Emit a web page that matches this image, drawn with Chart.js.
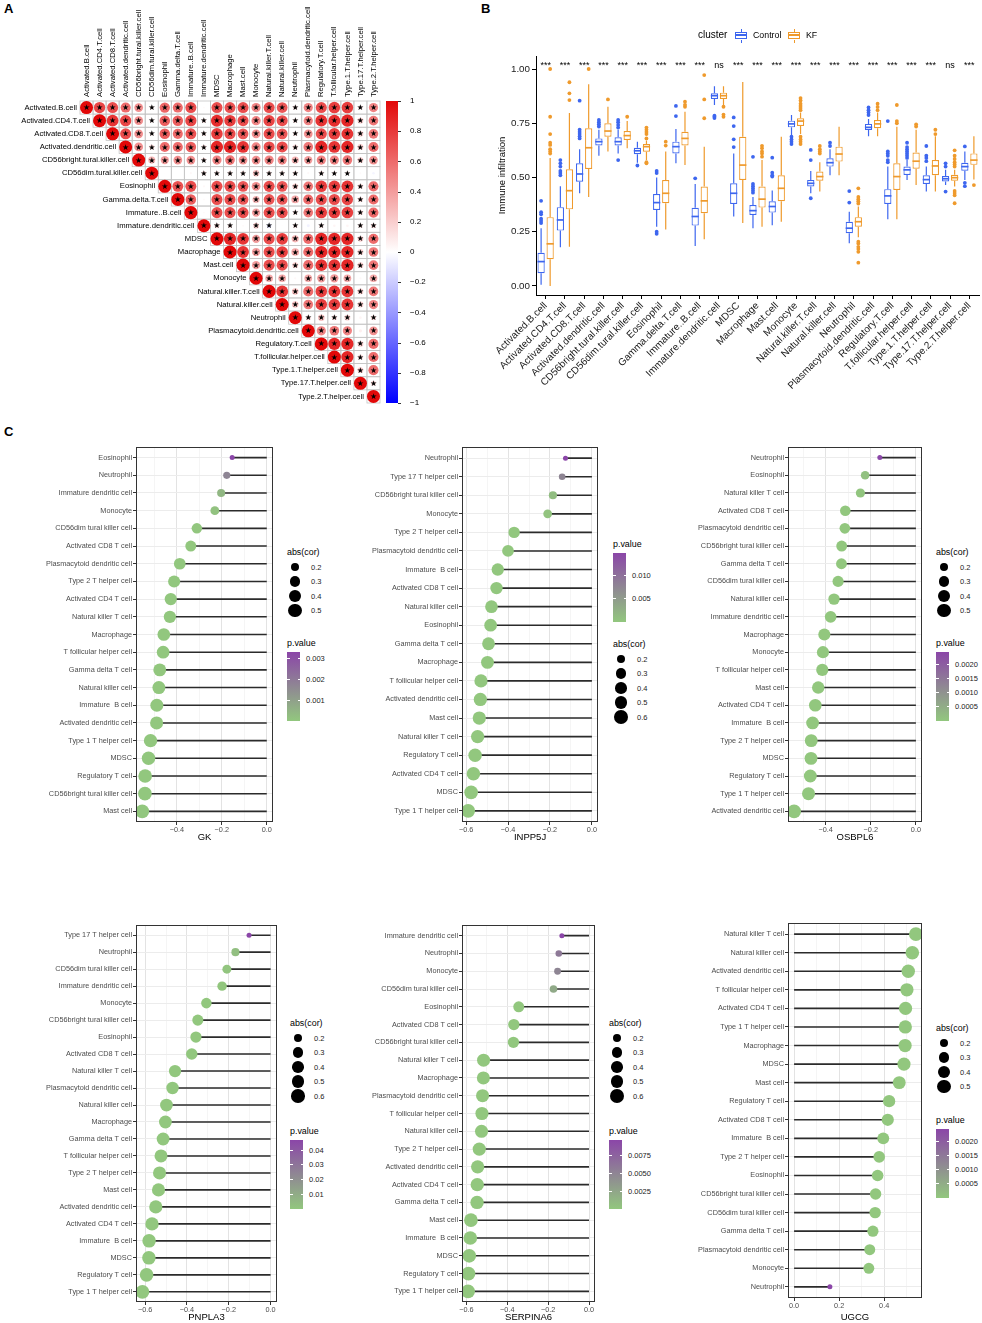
<!DOCTYPE html>
<html lang="en">
<head>
<meta charset="UTF-8">
<title>Immune infiltration</title>
<script src="https://cdn.jsdelivr.net/npm/chart.js@4.4.1/dist/chart.umd.min.js"></script>
<style>
  body { margin: 0; background: #fff; }
  #page { position: relative; width: 982px; height: 1323px; overflow: hidden; background: #fff;
          font-family: "Liberation Sans", Arial, sans-serif; color: #000; }
  #page canvas { position: absolute; }
  .tag { position: absolute; font-size: 13px; font-weight: bold; line-height: 13px; }
  .txt { position: absolute; white-space: nowrap; }
  .blk { position: absolute; }
</style>
</head>
<body>
<div id="page">
  <div class="tag" style="left:4px;top:2px">A</div>
  <div class="tag" style="left:481px;top:2px">B</div>
  <div class="tag" style="left:4px;top:425px">C</div>
  <canvas id="corr" width="440" height="420" style="left:0;top:0"></canvas>
  <canvas id="box" width="502" height="400" style="left:480px;top:0"></canvas>
</div>
<script>
// ---------- panel A: correlation between cell types (upper triangle, row i starts at column i)
const corrCells = ['Activated.B.cell', 'Activated.CD4.T.cell', 'Activated.CD8.T.cell', 'Activated.dendritic.cell',
  'CD56bright.tural.killer.cell', 'CD56dim.tural.killer.cell', 'Eosinophil', 'Gamma.delta.T.cell', 'Immature..B.cell',
  'Immature.dendritic.cell', 'MDSC', 'Macrophage', 'Mast.cell', 'Monocyte', 'Natural.killer.T.cell',
  'Natural.killer.cell', 'Neutrophil', 'Plasmacytoid.dendritic.cell', 'Regulatory.T.cell', 'T.follicular.helper.cell',
  'Type.1.T.helper.cell', 'Type.17.T.helper.cell', 'Type.2.T.helper.cell'];
const corrUpper = [
  [1, .75, .72, .6, .45, .1, .62, .6, .72, .02, .72, .7, .72, .5, .72, .68, .12, .5, .72, .78, .78, .12, .5],
  [1, .82, .75, .45, .1, .65, .65, .75, .12, .85, .78, .72, .5, .75, .72, .12, .5, .82, .85, .88, .2, .55],
  [1, .72, .45, .1, .65, .6, .7, .12, .78, .72, .68, .45, .72, .68, .12, .45, .72, .78, .82, .2, .55],
  [1, .45, .15, .6, .6, .65, .12, .88, .88, .82, .5, .72, .72, .15, .55, .88, .82, .88, .2, .6],
  [1, .3, .4, .45, .45, .12, .5, .55, .45, .45, .5, .5, .3, .4, .5, .5, .55, .2, .45],
  [1, .01, 0, .03, .12, .12, .12, .12, .25, .12, .12, .12, .03, .12, .1, .1, .02, -.04],
  [1, .7, .72, .03, .72, .72, .68, .45, .72, .68, .2, .55, .78, .78, .82, .15, .6],
  [1, .65, .02, .72, .72, .68, .3, .68, .68, .35, .6, .72, .72, .75, .15, .6],
  [1, .02, .72, .72, .72, .4, .72, .72, .12, .55, .78, .78, .78, .15, .6],
  [1, .15, .12, .02, .2, -.12, .01, .12, -.05, .12, .04, .04, .12, .15],
  [1, .88, .82, .4, .72, .78, .3, .6, .88, .88, .88, .2, .6],
  [1, .82, .4, .72, .78, .35, .6, .88, .88, .88, .2, .55],
  [1, .4, .72, .72, .2, .6, .82, .82, .88, .2, .55],
  [1, .35, .35, .03, .35, .4, .4, .35, .03, .35],
  [1, .82, .25, .6, .78, .82, .82, .2, .55],
  [1, .25, .55, .78, .78, .82, .2, .5],
  [1, .15, .25, .15, .2, .04, .15],
  [1, .5, .55, .5, .06, .45],
  [1, .88, .88, .2, .6],
  [1, .88, .15, .6],
  [1, .2, .6],
  [1, .15],
  [1]
];
const corrTicks = [-1, -0.8, -0.6, -0.4, -0.2, 0, 0.2, 0.4, 0.6, 0.8, 1];

// ---------- panel B: immune infiltration by cluster
const boxCells = corrCells;
const sigMarks = ['***', '***', '***', '***', '***', '***', '***', '***', '***', 'ns', '***', '***',
  '***', '***', '***', '***', '***', '***', '***', '***', '***', 'ns', '***'];
const yBreaks = [0, 0.25, 0.5, 0.75, 1];

const ctrlLow = [0.005, 0.178, 0.427, 0.60, 0.61, 0.568, 0.273, 0.565, 0.184, 0.834, 0.32, 0.266, 0.28, 0.69, 0.427, 0.51, 0.197, 0.69, 0.307, 0.488, 0.435, 0.465, 0.488];
const ctrlQ1 = [0.058, 0.255, 0.48, 0.647, 0.647, 0.607, 0.35, 0.611, 0.278, 0.862, 0.378, 0.327, 0.338, 0.731, 0.458, 0.55, 0.243, 0.719, 0.378, 0.511, 0.47, 0.481, 0.531];
const ctrlMed = [0.112, 0.304, 0.516, 0.665, 0.665, 0.623, 0.384, 0.642, 0.32, 0.877, 0.427, 0.347, 0.366, 0.747, 0.473, 0.568, 0.266, 0.731, 0.415, 0.535, 0.49, 0.494, 0.55];
const ctrlQ3 = [0.153, 0.363, 0.565, 0.68, 0.685, 0.637, 0.424, 0.665, 0.36, 0.888, 0.473, 0.373, 0.39, 0.762, 0.488, 0.588, 0.296, 0.747, 0.446, 0.55, 0.51, 0.507, 0.568];
const ctrlHigh = [0.266, 0.46, 0.63, 0.72, 0.72, 0.665, 0.50, 0.723, 0.47, 0.92, 0.61, 0.41, 0.44, 0.788, 0.53, 0.63, 0.342, 0.77, 0.55, 0.58, 0.55, 0.535, 0.62];
const ctrlOut = [[0.29, 0.30, 0.31, 0.33, 0.34, 0.392], [0.51, 0.52, 0.53, 0.55, 0.565, 0.58], [0.68, 0.69, 0.70, 0.71, 0.72, 0.854],
  [0.735, 0.745, 0.755, 0.765], [0.58, 0.73, 0.742, 0.755, 0.765], [0.555], [0.24, 0.25, 0.52, 0.53], [0.783, 0.83], [0.496],
  [0.774, 0.78, 0.785], [0.64, 0.676, 0.737, 0.777], [0.43, 0.44, 0.45, 0.46, 0.47, 0.595], [0.504, 0.51, 0.522, 0.591],
  [0.654, 0.665, 0.675, 0.688], [0.404, 0.58, 0.627], [0.645, 0.66], [0.384, 0.437], [0.788, 0.8, 0.81, 0.823],
  [0.57, 0.58, 0.6, 0.61, 0.62, 0.76], [0.59, 0.6, 0.61, 0.62, 0.63, 0.64, 0.66], [0.575, 0.59, 0.6, 0.645],
  [0.435, 0.55, 0.565], [0.46, 0.475, 0.643]];

const kfLow = [0.0, 0.18, 0.41, 0.62, 0.635, 0.58, 0.26, 0.557, 0.215, 0.83, 0.29, 0.273, 0.296, 0.70, 0.435, 0.51, 0.224, 0.69, 0.307, 0.465, 0.435, 0.458, 0.49];
const kfQ1 = [0.123, 0.353, 0.539, 0.688, 0.673, 0.619, 0.381, 0.647, 0.335, 0.862, 0.488, 0.361, 0.39, 0.737, 0.485, 0.573, 0.273, 0.727, 0.442, 0.54, 0.51, 0.485, 0.558];
const kfMed = [0.194, 0.439, 0.637, 0.714, 0.693, 0.642, 0.427, 0.68, 0.392, 0.877, 0.557, 0.40, 0.45, 0.76, 0.504, 0.608, 0.296, 0.747, 0.504, 0.575, 0.553, 0.499, 0.58];
const kfQ3 = [0.317, 0.538, 0.727, 0.75, 0.714, 0.654, 0.488, 0.711, 0.458, 0.891, 0.688, 0.458, 0.51, 0.773, 0.527, 0.642, 0.317, 0.765, 0.565, 0.615, 0.58, 0.512, 0.611];
const kfHigh = [0.59, 0.797, 0.93, 0.826, 0.76, 0.67, 0.62, 0.803, 0.642, 0.92, 0.94, 0.58, 0.688, 0.80, 0.57, 0.734, 0.366, 0.80, 0.734, 0.72, 0.69, 0.535, 0.69];
const kfOut = [[0.61, 0.62, 0.63, 0.65, 0.66, 0.70, 0.78, 1.0], [0.857, 0.888, 0.939], [1.0], [0.86], [0.78],
  [0.565, 0.57, 0.68, 0.70, 0.71, 0.72, 0.73], [0.647, 0.665], [0.826, 0.835, 0.849], [0.773, 0.86, 0.972],
  [0.78, 0.79, 0.826], [], [0.596, 0.61, 0.62, 0.635, 0.646], [],
  [0.654, 0.665, 0.675, 0.688, 0.81, 0.82, 0.83, 0.84, 0.855, 0.866], [0.61, 0.62, 0.63, 0.645], [],
  [0.107, 0.157, 0.17, 0.18, 0.195, 0.204, 0.38, 0.39, 0.40, 0.41, 0.45], [0.81, 0.825, 0.84], [0.75, 0.76, 0.834],
  [0.735, 0.745], [0.70, 0.72], [0.381, 0.418, 0.428, 0.438, 0.55, 0.56, 0.57, 0.585, 0.6, 0.625], [0.465]];

// ---------- panel C: gene vs immune cell correlation
const gkCells = ['Eosinophil', 'Neutrophil', 'Immature dendritic cell', 'Monocyte', 'CD56dim tural killer cell',
  'Activated CD8 T cell', 'Plasmacytoid dendritic cell', 'Type 2 T helper cell', 'Activated CD4 T cell',
  'Natural killer T cell', 'Macrophage', 'T follicular helper cell', 'Gamma delta T cell', 'Natural killer cell',
  'Immature  B cell', 'Activated dendritic cell', 'Type 1 T helper cell', 'MDSC', 'Regulatory T cell',
  'CD56bright tural killer cell', 'Mast cell'];
const gkCor = [-0.154, -0.178, -0.203, -0.231, -0.311, -0.338, -0.387, -0.412, -0.427, -0.431, -0.458, -0.461,
  -0.476, -0.48, -0.489, -0.49, -0.517, -0.526, -0.541, -0.542, -0.554];
const gkP = [0.0033, 0.0017, 0.0004, 0.00012, 2e-5, 1e-5, 3e-6, 2e-6, 1e-6, 1e-6, 5e-7, 5e-7, 3e-7, 3e-7, 2e-7,
  2e-7, 1e-7, 1e-7, 5e-8, 5e-8, 3e-8];

const inppCells = ['Neutrophil', 'Type 17 T helper cell', 'CD56bright tural killer cell', 'Monocyte',
  'Type 2 T helper cell', 'Plasmacytoid dendritic cell', 'Immature  B cell', 'Activated CD8 T cell',
  'Natural killer cell', 'Eosinophil', 'Gamma delta T cell', 'Macrophage', 'T follicular helper cell',
  'Activated dendritic cell', 'Mast cell', 'Natural killer T cell', 'Regulatory T cell', 'Activated CD4 T cell',
  'MDSC', 'Type 1 T helper cell'];
const inppCor = [-0.126, -0.142, -0.186, -0.211, -0.371, -0.40, -0.449, -0.455, -0.479, -0.483, -0.493, -0.498,
  -0.529, -0.532, -0.537, -0.545, -0.557, -0.565, -0.576, -0.59];
const inppP = [0.0149, 0.0076, 0.0012, 0.0005, 2e-6, 1e-6, 5e-7, 5e-7, 3e-7, 3e-7, 2e-7, 2e-7, 1e-7, 1e-7, 1e-7,
  5e-8, 5e-8, 3e-8, 3e-8, 2e-8];

const osbCells = ['Neutrophil', 'Eosinophil', 'Natural killer T cell', 'Activated CD8 T cell',
  'Plasmacytoid dendritic cell', 'CD56bright tural killer cell', 'Gamma delta T cell', 'CD56dim tural killer cell',
  'Natural killer cell', 'Immature dendritic cell', 'Macrophage', 'Monocyte', 'T follicular helper cell',
  'Mast cell', 'Activated CD4 T cell', 'Immature  B cell', 'Type 2 T helper cell', 'MDSC', 'Regulatory T cell',
  'Type 1 T helper cell', 'Activated dendritic cell'];
const osbCor = [-0.16, -0.225, -0.246, -0.313, -0.315, -0.329, -0.33, -0.345, -0.363, -0.378, -0.406, -0.412,
  -0.415, -0.433, -0.446, -0.458, -0.464, -0.465, -0.468, -0.476, -0.54];
const osbP = [0.00244, 0.00012, 4e-5, 2e-6, 2e-6, 1e-6, 1e-6, 8e-7, 5e-7, 3e-7, 1e-7, 1e-7, 1e-7, 5e-8, 3e-8,
  2e-8, 2e-8, 2e-8, 2e-8, 1e-8, 1e-9];

const pnpCells = ['Type 17 T helper cell', 'Neutrophil', 'CD56dim tural killer cell', 'Immature dendritic cell',
  'Monocyte', 'CD56bright tural killer cell', 'Eosinophil', 'Activated CD8 T cell', 'Natural killer T cell',
  'Plasmacytoid dendritic cell', 'Natural killer cell', 'Macrophage', 'Gamma delta T cell',
  'T follicular helper cell', 'Type 2 T helper cell', 'Mast cell', 'Activated dendritic cell',
  'Activated CD4 T cell', 'Immature  B cell', 'MDSC', 'Regulatory T cell', 'Type 1 T helper cell'];
const pnpCor = [-0.103, -0.168, -0.209, -0.232, -0.307, -0.348, -0.357, -0.377, -0.457, -0.469, -0.498, -0.503,
  -0.514, -0.524, -0.531, -0.536, -0.549, -0.567, -0.581, -0.582, -0.593, -0.613];
const pnpP = [0.047, 0.003, 0.0006, 0.0002, 1e-5, 2e-6, 1e-6, 1e-6, 1e-7, 1e-7, 5e-8, 5e-8, 3e-8, 3e-8, 2e-8,
  2e-8, 1e-8, 1e-8, 5e-9, 5e-9, 3e-9, 1e-9];

const serCells = ['Immature dendritic cell', 'Neutrophil', 'Monocyte', 'CD56dim tural killer cell', 'Eosinophil',
  'Activated CD8 T cell', 'CD56bright tural killer cell', 'Natural killer T cell', 'Macrophage',
  'Plasmacytoid dendritic cell', 'T follicular helper cell', 'Natural killer cell', 'Type 2 T helper cell',
  'Activated dendritic cell', 'Activated CD4 T cell', 'Gamma delta T cell', 'Mast cell', 'Immature  B cell',
  'MDSC', 'Regulatory T cell', 'Type 1 T helper cell'];
const serCor = [-0.133, -0.148, -0.154, -0.174, -0.344, -0.368, -0.37, -0.516, -0.517, -0.521, -0.524, -0.526,
  -0.537, -0.545, -0.547, -0.548, -0.578, -0.581, -0.586, -0.59, -0.592];
const serP = [0.0096, 0.0058, 0.0049, 0.0022, 1e-5, 4e-6, 4e-6, 1e-7, 1e-7, 1e-7, 8e-8, 8e-8, 5e-8, 4e-8, 4e-8,
  4e-8, 2e-8, 2e-8, 1e-8, 1e-8, 1e-8];

const ugcCells = ['Natural killer T cell', 'Natural killer cell', 'Activated dendritic cell',
  'T follicular helper cell', 'Activated CD4 T cell', 'Type 1 T helper cell', 'Macrophage', 'MDSC', 'Mast cell',
  'Regulatory T cell', 'Activated CD8 T cell', 'Immature  B cell', 'Type 2 T helper cell', 'Eosinophil',
  'CD56bright tural killer cell', 'CD56dim tural killer cell', 'Gamma delta T cell',
  'Plasmacytoid dendritic cell', 'Monocyte', 'Neutrophil'];
const ugcCor = [0.541, 0.525, 0.507, 0.501, 0.495, 0.494, 0.493, 0.488, 0.467, 0.422, 0.416, 0.396, 0.378, 0.371,
  0.362, 0.36, 0.35, 0.336, 0.332, 0.159];
const ugcP = [1e-9, 2e-9, 3e-9, 3e-9, 4e-9, 4e-9, 4e-9, 5e-9, 1e-8, 5e-8, 6e-8, 1e-7, 2e-7, 3e-7, 4e-7, 4e-7,
  6e-7, 1e-6, 1e-6, 0.00245];

// ---------- shared helpers
Chart.defaults.font.family = '"Liberation Sans", Arial, sans-serif';
Chart.defaults.color = '#000';
const page = document.getElementById('page');
const FONT = '"Liberation Sans", Arial, sans-serif';

function mix(a, b, t) {
  t = Math.max(0, Math.min(1, t));
  return 'rgb(' + a.map((c, k) => Math.round(c + (b[k] - c) * t)).join(',') + ')';
}
function minus(s) { return s.replace('-', '\u2212'); }

function addText(x, y, str, size, color) {
  const d = document.createElement('div');
  d.className = 'txt';
  d.textContent = str;
  d.style.left = x + 'px';
  d.style.top = (y - size * 0.6) + 'px';
  d.style.fontSize = size + 'px';
  d.style.lineHeight = (size * 1.2) + 'px';
  if (color) d.style.color = color;
  page.appendChild(d);
  return d;
}
function addBlock(x, y, w, h, css) {
  const d = document.createElement('div');
  d.className = 'blk';
  d.style.left = x + 'px'; d.style.top = y + 'px';
  d.style.width = w + 'px'; d.style.height = h + 'px';
  Object.assign(d.style, css || {});
  page.appendChild(d);
  return d;
}

// ---------- panel A
const WHITE = [255, 255, 255], RED = [226, 8, 8], BLUE = [0, 0, 255];
const corColor = v => v >= 0 ? mix(WHITE, RED, v) : mix(WHITE, BLUE, -v);
const corrPoints = [];
corrUpper.forEach((row, i) => row.forEach((v, k) => corrPoints.push({ x: i + k + 0.5, y: i + 0.5, v })));

const corrDecor = {
  id: 'corrDecor',
  beforeDatasetsDraw(chart) {
    const { ctx, scales: { x, y } } = chart;
    ctx.save();
    ctx.strokeStyle = '#c4c4c4';
    ctx.lineWidth = 0.8;
    corrUpper.forEach((row, i) => row.forEach((v, k) => {
      const j = i + k;
      const x0 = x.getPixelForValue(j), x1 = x.getPixelForValue(j + 1);
      const y0 = y.getPixelForValue(i), y1 = y.getPixelForValue(i + 1);
      ctx.strokeRect(x0, y0, x1 - x0, y1 - y0);
    }));
    ctx.restore();
  },
  afterDatasetsDraw(chart) {
    const { ctx, chartArea, scales: { x, y, cb } } = chart;
    ctx.save();
    // significance stars
    ctx.fillStyle = '#000';
    ctx.font = '8px "DejaVu Sans"';
    ctx.textAlign = 'center';
    ctx.textBaseline = 'middle';
    corrPoints.forEach(p => {
      if (Math.abs(p.v) >= 0.08) ctx.fillText('\u2605', x.getPixelForValue(p.x), y.getPixelForValue(p.y) + 0.5);
    });
    // row labels next to the diagonal, column labels on top
    ctx.font = '7.7px ' + FONT;
    ctx.textAlign = 'right';
    corrCells.forEach((name, i) => ctx.fillText(name, x.getPixelForValue(i) - 3, y.getPixelForValue(i + 0.5)));
    ctx.textAlign = 'left';
    corrCells.forEach((name, j) => {
      ctx.save();
      ctx.translate(x.getPixelForValue(j + 0.5), chartArea.top - 4);
      ctx.rotate(-Math.PI / 2);
      ctx.fillText(name, 0, 0);
      ctx.restore();
    });
    // colour key
    const top = cb.getPixelForValue(1), bot = cb.getPixelForValue(-1);
    const bx = chartArea.right + 6, bw = 12;
    const g = ctx.createLinearGradient(0, top, 0, bot);
    g.addColorStop(0, corColor(1));
    g.addColorStop(0.5, corColor(0));
    g.addColorStop(1, corColor(-1));
    ctx.fillStyle = g;
    ctx.fillRect(bx, top, bw, bot - top);
    ctx.strokeStyle = '#000';
    ctx.lineWidth = 0.8;
    ctx.beginPath();
    corrTicks.forEach(t => {
      const yy = Math.round(cb.getPixelForValue(t)) + 0.5;
      ctx.moveTo(bx + bw, yy); ctx.lineTo(bx + bw + 3, yy);
    });
    ctx.stroke();
    ctx.restore();
  }
};

new Chart(document.getElementById('corr'), {
  type: 'scatter',
  data: {
    datasets: [{
      data: corrPoints,
      pointRadius: ctx => {
        const xs = ctx.chart.scales && ctx.chart.scales.x;
        if (!xs || !ctx.raw) return 0;
        const cell = Math.abs(xs.getPixelForValue(1) - xs.getPixelForValue(0));
        return 0.5 * cell * Math.sqrt(Math.abs(ctx.raw.v));
      },
      pointBackgroundColor: ctx => ctx.raw ? corColor(ctx.raw.v) : '#fff',
      pointBorderWidth: 0,
      clip: false
    }]
  },
  options: {
    responsive: false, animation: false, events: [],
    layout: { padding: { left: 80, top: 101, right: 0, bottom: 17 } },
    plugins: { legend: { display: false }, tooltip: { enabled: false } },
    scales: {
      x: { type: 'linear', min: 0, max: corrCells.length, display: false },
      y: { type: 'linear', min: 0, max: corrCells.length, reverse: true, display: false },
      cb: {
        type: 'linear', position: 'right', min: -1, max: 1,
        afterFit: s => { s.width = 60; },
        afterBuildTicks: s => { s.ticks = corrTicks.map(v => ({ value: v })); },
        grid: { drawOnChartArea: false, drawTicks: true, tickLength: 27, color: 'rgba(0,0,0,0)' },
        border: { display: false },
        ticks: {
          padding: 3, font: { size: 8 }, color: '#000',
          callback: v => { const r = Math.round(v * 10) / 10; return r === 0 ? '0' : minus(String(r)); }
        }
      }
    }
  },
  plugins: [corrDecor]
});

// ---------- panel B
const CTRL = '#3d66ef', KF = '#ef9a2c';
const boxGroups = [
  { color: CTRL, low: ctrlLow, q1: ctrlQ1, med: ctrlMed, q3: ctrlQ3, high: ctrlHigh, out: ctrlOut },
  { color: KF, low: kfLow, q1: kfQ1, med: kfMed, q3: kfQ3, high: kfHigh, out: kfOut }
];

const boxParts = {
  id: 'boxParts',
  afterDatasetsDraw(chart) {
    const { ctx, scales: { x, y } } = chart;
    boxGroups.forEach((g, d) => {
      chart.getDatasetMeta(d).data.forEach((bar, i) => {
        const half = bar.width / 2;
        ctx.save();
        ctx.strokeStyle = g.color;
        ctx.fillStyle = g.color;
        ctx.lineWidth = 1.2;
        ctx.beginPath();
        ctx.moveTo(bar.x, y.getPixelForValue(g.high[i])); ctx.lineTo(bar.x, y.getPixelForValue(g.q3[i]));
        ctx.moveTo(bar.x, y.getPixelForValue(g.q1[i])); ctx.lineTo(bar.x, y.getPixelForValue(g.low[i]));
        ctx.stroke();
        ctx.lineWidth = 1.7;
        const ym = y.getPixelForValue(g.med[i]);
        ctx.beginPath(); ctx.moveTo(bar.x - half, ym); ctx.lineTo(bar.x + half, ym); ctx.stroke();
        g.out[i].forEach(v => {
          ctx.beginPath();
          ctx.arc(bar.x, y.getPixelForValue(v), 1.9, 0, 2 * Math.PI);
          ctx.fill();
        });
        ctx.restore();
      });
    });
    ctx.save();
    ctx.font = '9px ' + FONT;
    ctx.fillStyle = '#000';
    ctx.textAlign = 'center';
    ctx.textBaseline = 'alphabetic';
    sigMarks.forEach((s, i) => ctx.fillText(s, x.getPixelForValue(i), y.getPixelForValue(1) - 1));
    ctx.restore();
  }
};

new Chart(document.getElementById('box'), {
  type: 'bar',
  data: {
    labels: boxCells,
    datasets: boxGroups.map((g, d) => ({
      label: d === 0 ? 'Control' : 'KF',
      data: g.q1.map((v, i) => [v, g.q3[i]]),
      backgroundColor: '#fff',
      borderColor: g.color,
      borderWidth: 1.2,
      borderSkipped: false,
      categoryPercentage: 0.94,
      barPercentage: 0.8
    }))
  },
  options: {
    responsive: false, animation: false, events: [],
    layout: { padding: { left: 0, top: 56, right: 3, bottom: 0 } },
    plugins: { legend: { display: false }, tooltip: { enabled: false } },
    scales: {
      x: {
        afterFit: s => { s.height = 105; },
        grid: { drawOnChartArea: false, offset: false, tickLength: 4, color: '#000' },
        border: { color: '#000', width: 1 },
        ticks: { autoSkip: false, minRotation: 45, maxRotation: 45, padding: 1, font: { size: 10 }, color: '#1a1a1a' }
      },
      y: {
        min: -0.042, max: 1.06,
        afterFit: s => { s.width = 56; },
        afterBuildTicks: s => { s.ticks = yBreaks.map(v => ({ value: v })); },
        grid: { drawOnChartArea: false, tickLength: 4, color: '#000' },
        border: { color: '#000', width: 1 },
        ticks: { padding: 2, font: { size: 9.8 }, color: '#1a1a1a', callback: v => v.toFixed(2) },
        title: { display: true, text: 'Immune infiltration', font: { size: 9.5 }, color: '#000', padding: { top: 17, bottom: 0 } }
      }
    }
  },
  plugins: [boxParts]
});

// legend of panel B
function boxIcon(x, color) {
  addBlock(x, 31.5, 10, 5, { border: '1.4px solid ' + color });
  addBlock(x + 1, 34.3, 11, 1.4, { background: color });
  addBlock(x + 6, 28.5, 1.4, 3, { background: color });
  addBlock(x + 6, 39.5, 1.4, 3, { background: color });
}
addText(698, 35, 'cluster', 10);
boxIcon(735, CTRL);
addText(753, 35, 'Control', 8.8);
boxIcon(788, KF);
addText(806, 35, 'KF', 8.8);

// ---------- panel C
const P_LOW = [146, 199, 126], P_HIGH = [139, 70, 168];

const panelFrame = {
  id: 'panelFrame',
  afterDraw(chart) {
    const { ctx, chartArea: a } = chart;
    ctx.save();
    ctx.strokeStyle = '#333';
    ctx.lineWidth = 1;
    ctx.strokeRect(Math.round(a.left) + 0.5, Math.round(a.top) + 0.5, Math.round(a.right - a.left) - 1, Math.round(a.bottom - a.top) - 1);
    ctx.restore();
  }
};

function lollipop(spec) {
  const { cells, cor, pval, gene, box, plot, legend } = spec;
  const cv = document.createElement('canvas');
  cv.width = box.w; cv.height = box.h;
  cv.style.left = box.x + 'px'; cv.style.top = box.y + 'px';
  page.appendChild(cv);

  const absCor = cor.map(v => Math.abs(v));
  const aMin = Math.min(...absCor), aMax = Math.max(...absCor);
  const pMin = Math.min(...pval), pMax = Math.max(...pval);
  const sizeOf = a => 2.5 + 4.4 * Math.sqrt(Math.max(0, (a - aMin) / (aMax - aMin)));
  const colorOf = p => mix(P_LOW, P_HIGH, (p - pMin) / (pMax - pMin));
  const lo = Math.min(0, ...cor), hi = Math.max(0, ...cor), pad = (hi - lo) * 0.05;
  const isMajor = v => Math.abs(Math.round(v * 10)) % 2 === 0;

  const sticks = [];
  cor.forEach((v, i) => sticks.push({ x: 0, y: i }, { x: v, y: i }, { x: null, y: null }));

  new Chart(cv, {
    type: 'scatter',
    data: {
      datasets: [
        {
          data: cor.map((v, i) => ({ x: v, y: i })), order: 0,
          pointRadius: ctx => ctx.dataIndex === undefined ? 3 : sizeOf(absCor[ctx.dataIndex]),
          pointBackgroundColor: ctx => ctx.dataIndex === undefined ? '#000' : colorOf(pval[ctx.dataIndex]),
          pointBorderWidth: 0
        },
        {
          type: 'line', data: sticks, order: 1, showLine: true, spanGaps: false,
          borderColor: '#2b2b2b', borderWidth: 1.6, pointRadius: 0, fill: false
        }
      ]
    },
    options: {
      responsive: false, animation: false, events: [],
      layout: { padding: { left: 0, bottom: 0, top: plot.t - box.y, right: box.x + box.w - plot.r } },
      plugins: { legend: { display: false }, tooltip: { enabled: false } },
      scales: {
        x: {
          type: 'linear', min: lo - pad, max: hi + pad,
          afterFit: s => { s.height = box.y + box.h - plot.b; },
          afterBuildTicks: s => {
            const t = [];
            for (let k = Math.ceil(s.min * 10 - 1e-9); k <= Math.floor(s.max * 10 + 1e-9); k++) t.push({ value: k / 10 });
            s.ticks = t;
          },
          grid: {
            color: c => c.tick && !isMajor(c.tick.value) ? '#f1f1f1' : '#e3e3e3',
            lineWidth: c => c.tick && !isMajor(c.tick.value) ? 0.7 : 1,
            tickColor: c => c.tick && !isMajor(c.tick.value) ? 'rgba(0,0,0,0)' : '#333',
            tickLength: 3
          },
          border: { display: false },
          ticks: {
            autoSkip: false, maxRotation: 0, padding: 1, font: { size: 7.3 }, color: '#4d4d4d',
            callback: v => isMajor(v) ? minus((Math.round(v * 10) / 10).toFixed(1)) : ''
          },
          title: { display: true, text: gene, font: { size: 9.5 }, color: '#000', padding: { top: 0, bottom: 2 } }
        },
        y: {
          type: 'linear', reverse: true, min: -0.6, max: cells.length - 0.4,
          afterFit: s => { s.width = plot.l - box.x; },
          afterBuildTicks: s => { s.ticks = cells.map((c, i) => ({ value: i })); },
          grid: { color: '#ececec', tickColor: '#333', tickLength: 3 },
          border: { display: false },
          ticks: { autoSkip: false, padding: 1, font: { size: 7.3 }, color: '#4d4d4d', callback: v => cells[v] }
        }
      }
    },
    plugins: [panelFrame]
  });

  // size legend
  addText(legend.x, legend.absY, 'abs(cor)', 8.9);
  let yy = legend.absY + 15, prevD = null;
  legend.sizes.forEach(b => {
    const d = 2 * sizeOf(b);
    if (prevD !== null) yy += Math.max(14.5, (prevD + d) / 2 + 1.5);
    addBlock(legend.x + 8 - d / 2, yy - d / 2, d, d, { background: '#000', borderRadius: '50%' });
    addText(legend.x + 24, yy, String(b), 7.5, '#222');
    prevD = d;
  });
  // colour legend
  addText(legend.x, legend.pY, 'p.value', 8.9);
  const barTop = legend.pY + 9, barH = 69;
  addBlock(legend.x, barTop, 13, barH, {
    background: 'linear-gradient(to top, ' + mix(P_LOW, P_HIGH, 0) + ', ' + mix(P_LOW, P_HIGH, 0.5) + ', ' + mix(P_LOW, P_HIGH, 1) + ')'
  });
  legend.pBreaks.forEach(b => {
    const ty = barTop + (1 - (b - pMin) / (pMax - pMin)) * barH;
    addBlock(legend.x, ty - 0.5, 2.5, 1, { background: '#fff' });
    addBlock(legend.x + 10.5, ty - 0.5, 2.5, 1, { background: '#fff' });
    addText(legend.x + 19, ty, b.toFixed(legend.digits), 7.5, '#222');
  });
}

lollipop({ cells: gkCells, cor: gkCor, pval: gkP, gene: 'GK',
  box: { x: 0, y: 440, w: 280, h: 405 }, plot: { l: 136, t: 447, r: 273, b: 822 },
  legend: { x: 287, absY: 552, pY: 643, sizes: [0.2, 0.3, 0.4, 0.5], pBreaks: [0.001, 0.002, 0.003], digits: 3 } });
lollipop({ cells: inppCells, cor: inppCor, pval: inppP, gene: 'INPP5J',
  box: { x: 330, y: 440, w: 275, h: 405 }, plot: { l: 462, t: 447, r: 599, b: 822 },
  legend: { x: 613, absY: 644, pY: 544, sizes: [0.2, 0.3, 0.4, 0.5, 0.6], pBreaks: [0.005, 0.010], digits: 3 } });
lollipop({ cells: osbCells, cor: osbCor, pval: osbP, gene: 'OSBPL6',
  box: { x: 650, y: 440, w: 280, h: 405 }, plot: { l: 788, t: 447, r: 922, b: 822 },
  legend: { x: 936, absY: 552, pY: 643, sizes: [0.2, 0.3, 0.4, 0.5], pBreaks: [0.0005, 0.001, 0.0015, 0.002], digits: 4 } });
lollipop({ cells: pnpCells, cor: pnpCor, pval: pnpP, gene: 'PNPLA3',
  box: { x: 0, y: 918, w: 285, h: 407 }, plot: { l: 136, t: 925, r: 277, b: 1302 },
  legend: { x: 290, absY: 1023, pY: 1131, sizes: [0.2, 0.3, 0.4, 0.5, 0.6], pBreaks: [0.01, 0.02, 0.03, 0.04], digits: 2 } });
lollipop({ cells: serCells, cor: serCor, pval: serP, gene: 'SERPINA6',
  box: { x: 330, y: 918, w: 272, h: 407 }, plot: { l: 462, t: 925, r: 596, b: 1302 },
  legend: { x: 609, absY: 1023, pY: 1131, sizes: [0.2, 0.3, 0.4, 0.5, 0.6], pBreaks: [0.0025, 0.005, 0.0075], digits: 4 } });
lollipop({ cells: ugcCells, cor: ugcCor, pval: ugcP, gene: 'UGCG',
  box: { x: 650, y: 915, w: 280, h: 410 }, plot: { l: 788, t: 923, r: 922, b: 1298 },
  legend: { x: 936, absY: 1028, pY: 1120, sizes: [0.2, 0.3, 0.4, 0.5], pBreaks: [0.0005, 0.001, 0.0015, 0.002], digits: 4 } });
</script>
</body>
</html>
